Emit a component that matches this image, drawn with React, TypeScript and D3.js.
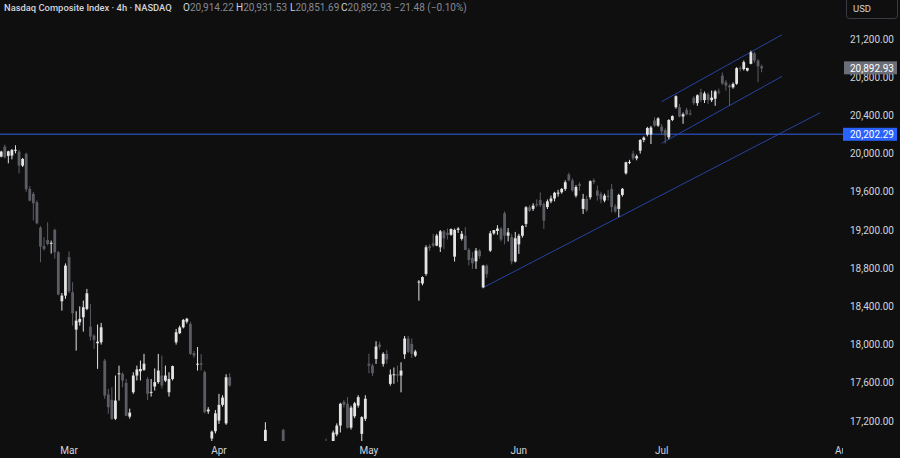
import React from 'react';
import * as d3 from 'd3';

// one candle: open, high, low, close
type Bar = [number, number, number, number];

// 4h bars, Nasdaq Composite (two bars per session)
const febBars: Bar[] = [
    [19969, 20030, 19960, 20021], [20073, 20094, 19950, 19961], [19976, 20030, 19898, 20024],
    [19979, 20049, 19940, 20038], [20035, 20087, 20003, 20040], [20021, 20040, 19791, 19874],
    [19874, 19955, 19860, 19944], [19997, 20010, 19600, 19626], [19630, 19660, 19500, 19508],
    [19578, 19600, 19300, 19480], [19490, 19510, 19260, 19270], [19225, 19240, 18862, 19026],
    [19033, 19124, 18984, 19002], [19096, 19281, 19040, 19054], [19060, 19089, 18953, 19066],
    [19201, 19215, 18900, 18967], [18967, 18980, 18515, 18524], [18454, 18540, 18356, 18513],
    [18513, 18850, 18480, 18827]
];

const marBars: Bar[] = [
    [18915, 18977, 18540, 18558], [18548, 18653, 18199, 18328], [18157, 18349, 17937, 18251],
    [18234, 18400, 18199, 18269], [18286, 18461, 18136, 18391], [18374, 18583, 18360, 18537],
    [18188, 18426, 18042, 18084], [18094, 18110, 17956, 18049], [18014, 18210, 17746, 18031],
    [18024, 18227, 18000, 18181], [17832, 17850, 17432, 17466], [17477, 17536, 17275, 17344],
    [17422, 17554, 17210, 17223], [17223, 17676, 17210, 17414], [17690, 17780, 17414, 17700],
    [17693, 17710, 17553, 17623], [17600, 17640, 17250, 17255], [17246, 17330, 17225, 17288],
    [17501, 17710, 17484, 17676], [17676, 17780, 17625, 17740], [17720, 17833, 17625, 17745],
    [17735, 17903, 17725, 17800], [17640, 17660, 17420, 17484], [17495, 17640, 17456, 17505],
    [17561, 17750, 17519, 17607], [17607, 17903, 17590, 17728], [17676, 17885, 17540, 17571],
    [17623, 17780, 17607, 17676], [17501, 17710, 17456, 17640], [17640, 17780, 17625, 17775],
    [18024, 18164, 18000, 18129], [18119, 18199, 18110, 18180], [18181, 18269, 18170, 18258],
    [18240, 18280, 18220, 18271], [18217, 18240, 17890, 17903], [17910, 17935, 17860, 17885],
    [17790, 17975, 17728, 17800], [17805, 17900, 17728, 17790], [17711, 17728, 17280, 17292],
    [17300, 17345, 17275, 17320], [17016, 17100, 16854, 17089], [17093, 17315, 17070, 17280]
];

const aprBars: Bar[] = [
    [17205, 17484, 17170, 17369], [17369, 17470, 17350, 17445], [17175, 17690, 17160, 17658],
    [17658, 17700, 17560, 17571], [16700, 16760, 16550, 16600], [16600, 16690, 16530, 16551],
    [16200, 16260, 15800, 15900], [15900, 15980, 15580, 15588], [14900, 16000, 14784, 15700],
    [15700, 16100, 15400, 15603], [16200, 16290, 15700, 15800], [15800, 15900, 15260, 15268],
    [15100, 15300, 14880, 15200], [15200, 17187, 15180, 17107], [16750, 16800, 16000, 16200],
    [16200, 16450, 15900, 16387], [16400, 16600, 16200, 16550], [16550, 16760, 16450, 16724],
    [17107, 17118, 16780, 16850], [16850, 16950, 16750, 16832], [16850, 16950, 16750, 16900],
    [16900, 16960, 16780, 16823], [16500, 16550, 16150, 16250], [16250, 16400, 16100, 16307],
    [16400, 16500, 16250, 16300], [16300, 16400, 16200, 16287], [16050, 16100, 15750, 15850],
    [15850, 15950, 15700, 15871], [16000, 16250, 15980, 16200], [16200, 16350, 16150, 16300],
    [16850, 17016, 16620, 16680], [16680, 16800, 16550, 16708], [16760, 17100, 16740, 17079],
    [17060, 17175, 17040, 17152], [17152, 17390, 17080, 17380], [17400, 17420, 17340, 17370],
    [17380, 17450, 17120, 17130], [17130, 17360, 17110, 17340], [17250, 17400, 17230, 17385],
    [17362, 17470, 17340, 17450], [17065, 17250, 16990, 17240], [17223, 17470, 17200, 17433]
];

const mayBars: Bar[] = [
    [17800, 17905, 17700, 17780], [17780, 17800, 17670, 17700], [17850, 18035, 17798, 17980],
    [18000, 18030, 17950, 17977], [17798, 17920, 17770, 17903], [17903, 17945, 17800, 17844],
    [17589, 17740, 17570, 17686], [17680, 17760, 17590, 17689], [17690, 17780, 17607, 17676],
    [17676, 17815, 17500, 17728], [17899, 18090, 17850, 18064], [18064, 18090, 17910, 17924],
    [18008, 18064, 17860, 17903], [17885, 17945, 17870, 17928], [18650, 18675, 18460, 18660],
    [18640, 18715, 18620, 18707], [18740, 19040, 18720, 19019], [19030, 19050, 18980, 19010],
    [19061, 19159, 19019, 19036], [19036, 19159, 19030, 19142], [19019, 19200, 18970, 19186],
    [19186, 19200, 19000, 19112], [19170, 19215, 19100, 19150], [19150, 19215, 19140, 19211],
    [18921, 19215, 18870, 19201], [19201, 19230, 19170, 19215], [19107, 19190, 19090, 19160],
    [19141, 19230, 18990, 18991], [18992, 19010, 18830, 18887], [18908, 18967, 18793, 18852],
    [18872, 19012, 18793, 18984], [18984, 19000, 18900, 18925], [18600, 18835, 18590, 18827],
    [18827, 18840, 18700, 18737], [18984, 19190, 18970, 19165], [19165, 19200, 19150, 19199],
    [19190, 19250, 19150, 19215], [19215, 19230, 19080, 19100], [19375, 19395, 19050, 19140],
    [19140, 19220, 19080, 19175], [19127, 19160, 18840, 18870], [18870, 19180, 18860, 19114]
];

const junBars: Bar[] = [
    [19050, 19160, 18950, 19140], [19140, 19250, 19120, 19243], [19264, 19450, 19230, 19438],
    [19438, 19460, 19390, 19400], [19421, 19480, 19400, 19455], [19470, 19520, 19440, 19460],
    [19515, 19595, 19440, 19460], [19473, 19490, 19211, 19298], [19440, 19520, 19420, 19500],
    [19500, 19560, 19480, 19530], [19530, 19600, 19500, 19590], [19590, 19620, 19550, 19591],
    [19595, 19640, 19580, 19630], [19630, 19720, 19610, 19700], [19780, 19800, 19710, 19720],
    [19720, 19740, 19600, 19615], [19560, 19670, 19540, 19650], [19680, 19700, 19610, 19662],
    [19421, 19578, 19368, 19526], [19526, 19560, 19390, 19407], [19543, 19720, 19520, 19711],
    [19720, 19740, 19680, 19701], [19613, 19665, 19508, 19560], [19578, 19600, 19480, 19521],
    [19508, 19580, 19490, 19560], [19560, 19620, 19510, 19546], [19630, 19683, 19386, 19440],
    [19447, 19470, 19380, 19395], [19421, 19580, 19334, 19567], [19567, 19640, 19550, 19631],
    [19794, 19915, 19780, 19909], [19909, 19935, 19890, 19913], [20000, 20030, 19930, 19950],
    [19950, 19990, 19930, 19973], [20031, 20150, 20000, 20143], [20143, 20180, 20120, 20168],
    [20199, 20280, 20180, 20268], [20200, 20290, 20101, 20273], [20346, 20380, 20280, 20293],
    [20293, 20380, 20280, 20369]
];

const julBars: Bar[] = [
    [20283, 20310, 20200, 20233], [20245, 20265, 20105, 20190], [20171, 20360, 20150, 20352],
    [20352, 20400, 20340, 20393], [20486, 20610, 20470, 20601], [20486, 20520, 20380, 20388],
    [20388, 20430, 20312, 20412], [20458, 20480, 20400, 20412], [20420, 20460, 20400, 20418],
    [20584, 20600, 20510, 20528], [20528, 20620, 20500, 20611], [20642, 20680, 20540, 20560],
    [20560, 20650, 20530, 20630], [20620, 20640, 20520, 20560], [20560, 20660, 20540, 20586],
    [20575, 20665, 20500, 20650], [20650, 20680, 20620, 20640], [20817, 20850, 20720, 20733],
    [20747, 20770, 20660, 20712], [20712, 20730, 20503, 20694], [20694, 20745, 20680, 20730],
    [20731, 20905, 20720, 20895], [20895, 20915, 20860, 20885], [20885, 20975, 20870, 20958],
    [20870, 20900, 20860, 20896], [20940, 21078, 20935, 21061], [21050, 21065, 20950, 20974],
    [20974, 20990, 20747, 20914], [20914.22, 20931.53, 20851.69, 20892.93]
];

const monthLabels = ['Mar', 'Apr', 'May', 'Jun', 'Jul', 'Aug'];
const augBarsAfterJulStart = 51; // future slot on the time axis

const priceTicks = [17200, 17600, 18000, 18400, 18800, 19200, 19600, 20000, 20400, 20800, 21200];
const keyLevel = 20202.29;

// drawn lines: [slot, price] anchors, then slot where the ray stops
const supportLine = { a: [135, 18597], b: [173, 19334], end: 229.4 };
const channelLow = { a: [185, 20108], b: [204, 20503], end: 218.7 };
const channelWidth = 436;

const title = 'Nasdaq Composite Index · 4h · NASDAQ';
const change = '−21.48 (−0.10%)';

const W = 900;
const H = 458;
const plotRight = 843;
const plotBottom = 441;
const font = 'Roboto, "Noto Sans", sans-serif';
const upColor = '#e4e4e4';
const downColor = '#5b5d64';
const lineBlue = '#2444a0';

const fmt = d3.format(',.2f');

export default function App() {
    const bars = [...febBars, ...marBars, ...aprBars, ...mayBars, ...junBars, ...julBars];
    const monthStarts: number[] = [];
    let acc = febBars.length;
    [marBars, aprBars, mayBars, junBars, julBars].forEach((m) => {
        monthStarts.push(acc);
        acc += m.length;
    });
    monthStarts.push(monthStarts[4] + augBarsAfterJulStart);

    const x = d3.scaleLinear().domain([0, 1]).range([1.2, 4.77]);
    const y = d3.scaleLinear().domain([17200, 21200]).range([421, 39]);
    const bodyW = 2.8;

    const ray = (l: { a: number[]; b: number[]; end: number }, shift = 0) => {
        const slope = (l.b[1] - l.a[1]) / (l.b[0] - l.a[0]);
        return {
            x1: x(l.a[0]),
            y1: y(l.a[1] + shift),
            x2: x(l.end),
            y2: y(l.a[1] + shift + slope * (l.end - l.a[0]))
        };
    };

    const last = bars[bars.length - 1];

    return (
        <div style={{ position: 'absolute', left: 0, top: 0 }}>
            <svg width={W} height={H} style={{ display: 'block', background: '#0f0f0f', fontFamily: font }}>
                <defs>
                    <clipPath id="plot">
                        <rect x={0} y={0} width={plotRight} height={plotBottom} />
                    </clipPath>
                    <clipPath id="timeaxis">
                        <rect x={0} y={plotBottom} width={plotRight} height={H - plotBottom} />
                    </clipPath>
                </defs>

                <g clipPath="url(#plot)">
                    <line x1={0} x2={plotRight} y1={y(keyLevel)} y2={y(keyLevel)} stroke={lineBlue} strokeWidth={1.5} />
                    {[ray(supportLine), ray(channelLow), ray(channelLow, channelWidth)].map((l, i) => (
                        <line key={i} {...l} stroke={lineBlue} strokeWidth={1} />
                    ))}
                    {bars.map(([o, h, l, c], i) => {
                        const col = c >= o ? upColor : downColor;
                        const cx = x(i);
                        const top = y(Math.max(o, c));
                        const bh = Math.max(1, y(Math.min(o, c)) - top);
                        return (
                            <g key={i}>
                                <line x1={cx} x2={cx} y1={y(h)} y2={y(l)} stroke={col} strokeWidth={1} />
                                <rect x={cx - bodyW / 2} y={top} width={bodyW} height={bh} fill={col} />
                            </g>
                        );
                    })}
                </g>

                {/* legend line */}
                <text x={4} y={11} fontSize={9.4} fontWeight={500} fill="#d1d4dc">
                    {title}
                </text>
                <text y={11} fontSize={10} fill="#868993">
                    <tspan x={183} fill="#d1d4dc">O</tspan>
                    <tspan>{fmt(last[0])}</tspan>
                    <tspan x={236} fill="#d1d4dc">H</tspan>
                    <tspan>{fmt(last[1])}</tspan>
                    <tspan x={290} fill="#d1d4dc">L</tspan>
                    <tspan>{fmt(last[2])}</tspan>
                    <tspan x={341} fill="#d1d4dc">C</tspan>
                    <tspan>{fmt(last[3])}</tspan>
                    <tspan x={394}>{change}</tspan>
                </text>

                {/* price scale */}
                {priceTicks.map((p) => (
                    <text key={p} x={850} y={y(p) + 3.5} fontSize={10} fill="#d1d4dc">
                        {fmt(p)}
                    </text>
                ))}
                <rect x={843} y={y(keyLevel) - 6.5} width={54} height={13} fill="#2962ff" />
                <text x={850} y={y(keyLevel) + 3.5} fontSize={10} fill="#ffffff">
                    {fmt(keyLevel)}
                </text>
                <rect x={844} y={y(last[3]) - 7} width={53} height={13} fill="#6b6e77" />
                <text x={850} y={y(last[3]) + 3.5} fontSize={10} fill="#ffffff">
                    {fmt(last[3])}
                </text>
                <rect x={846.5} y={-4} width={51} height={22.5} rx={3} fill="none" stroke="#3a3c43" />
                <text x={853} y={12} fontSize={9.5} fill="#d1d4dc">
                    USD
                </text>

                {/* time scale */}
                <g clipPath="url(#timeaxis)">
                    {monthLabels.map((m, i) => (
                        <text key={m} x={x(monthStarts[i])} y={454} fontSize={10} fill="#d1d4dc" textAnchor="middle">
                            {m}
                        </text>
                    ))}
                </g>
            </svg>
        </div>
    );
}
